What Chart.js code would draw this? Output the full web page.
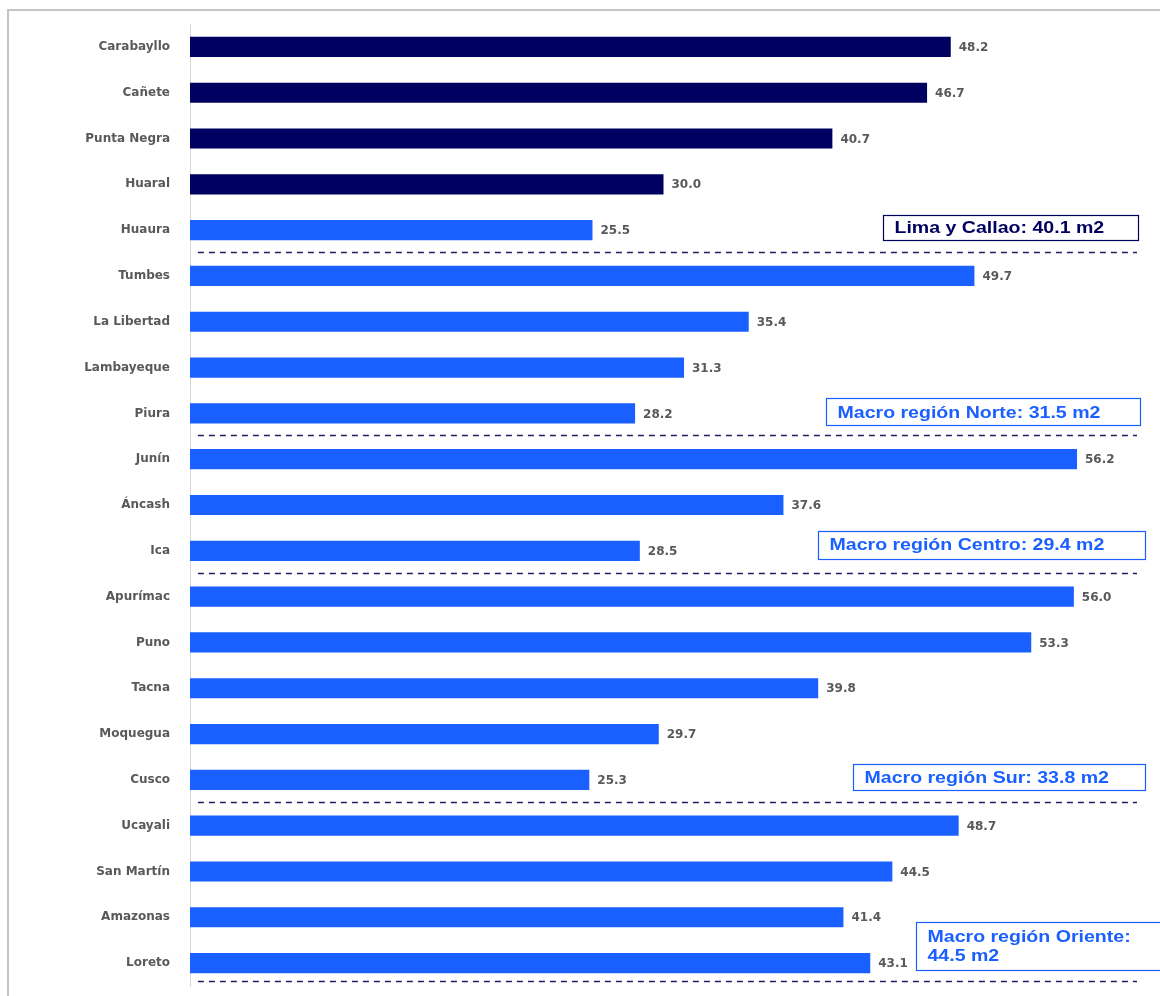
<!DOCTYPE html>
<html>
<head>
<meta charset="utf-8">
<script src="https://cdn.jsdelivr.net/npm/chart.js@4.4.1/dist/chart.umd.min.js"></script>
<style>
  html, body { margin: 0; padding: 0; background: #fff; }
  #wrap { width: 1160px; height: 996px; position: relative; }
</style>
</head>
<body>
<div id="wrap"><canvas id="chart" width="1160" height="996"></canvas></div>
<script>
const categories = [
  "Carabayllo", "Cañete", "Punta Negra", "Huaral", "Huaura",
  "Tumbes", "La Libertad", "Lambayeque", "Piura",
  "Junín", "Áncash", "Ica",
  "Apurímac", "Puno", "Tacna", "Moquegua", "Cusco",
  "Ucayali", "San Martín", "Amazonas", "Loreto"
];
const values = [
  48.2, 46.7, 40.7, 30.0, 25.5,
  49.7, 35.4, 31.3, 28.2,
  56.2, 37.6, 28.5,
  56.0, 53.3, 39.8, 29.7, 25.3,
  48.7, 44.5, 41.4, 43.1
];
// first four bars are Lima Metropolitana districts (dark navy)
const darkBars = 4;
// index of the last category of each group, a dashed line goes under it
const groupEnds = [4, 8, 11, 16, 20];
const groupTexts = [
  ["Lima y Callao: 40.1 m2"],
  ["Macro región Norte: 31.5 m2"],
  ["Macro región Centro: 29.4 m2"],
  ["Macro región Sur: 33.8 m2"],
  ["Macro región Oriente:", "44.5 m2"]
];

const NAVY = "#000060";
const BLUE = "#1a5fff";
const GRAY = "#595959";

// box placement: left/right in axis units, vertical offset from the row centre
const boxes = [
  { row: 4, x0: 43.9, x1: 60.05, dy: -3, h: 25, color: NAVY },
  { row: 8, x0: 40.3, x1: 60.2, dy: -1.5, h: 27, color: BLUE },
  { row: 11, x0: 39.8, x1: 60.5, dy: -6, h: 28, color: BLUE },
  { row: 16, x0: 42.0, x1: 60.5, dy: -3, h: 26, color: BLUE },
  { row: 20, x0: 46.0, x1: 62.0, dy: -17, h: 48, color: BLUE }
];

const framePlugin = {
  id: "frame",
  beforeDraw(chart) {
    const ctx = chart.ctx;
    ctx.save();
    ctx.strokeStyle = "#c4c4c4";
    ctx.lineWidth = 2;
    ctx.strokeRect(8, 10, 1400, 1400);
    ctx.restore();
  }
};

const valueLabels = {
  id: "valueLabels",
  afterDatasetsDraw(chart) {
    const ctx = chart.ctx;
    const meta = chart.getDatasetMeta(0);
    ctx.save();
    ctx.font = "bold 12px 'DejaVu Sans'";
    ctx.fillStyle = GRAY;
    ctx.textBaseline = "middle";
    ctx.textAlign = "left";
    meta.data.forEach((bar, i) => {
      ctx.fillText(values[i].toFixed(1), bar.x + 8, bar.y + 1);
    });
    ctx.restore();
  }
};

const groupPlugin = {
  id: "groups",
  afterDraw(chart) {
    const ctx = chart.ctx;
    const xs = chart.scales.x;
    const ys = chart.scales.y;
    const step = ys.getPixelForValue(1) - ys.getPixelForValue(0);
    ctx.save();
    // dashed separators
    ctx.strokeStyle = "#1f1f60";
    ctx.lineWidth = 1.3;
    ctx.setLineDash([6, 5]);
    groupEnds.forEach(idx => {
      let y = Math.round(ys.getPixelForValue(idx) + step / 2) - 0.5;
      y = Math.min(y, chart.chartArea.bottom - 4.5);
      ctx.beginPath();
      ctx.moveTo(xs.getPixelForValue(0.5), y);
      ctx.lineTo(xs.getPixelForValue(60), y);
      ctx.stroke();
    });
    ctx.setLineDash([]);
    // summary boxes
    boxes.forEach((b, i) => {
      const cy = ys.getPixelForValue(b.row) + b.dy;
      const left = Math.round(xs.getPixelForValue(b.x0)) + 0.5;
      const right = Math.round(xs.getPixelForValue(b.x1)) + 0.5;
      const top = Math.round(cy - b.h / 2) + 0.5;
      ctx.fillStyle = "#fff";
      ctx.fillRect(left, top, right - left, b.h);
      ctx.strokeStyle = b.color;
      ctx.lineWidth = 1.2;
      ctx.strokeRect(left, top, right - left, b.h);
      ctx.fillStyle = b.color;
      ctx.font = "bold 17px 'Liberation Sans', Arial, sans-serif";
      ctx.textBaseline = "middle";
      ctx.textAlign = "left";
      const lines = groupTexts[i];
      const lh = 19;
      lines.forEach((t, k) => {
        const ty = cy + 1 + (k - (lines.length - 1) / 2) * lh;
        // the original text is a little wider than Arial, stretch it
        ctx.save();
        ctx.translate(left + 11, ty);
        ctx.scale(1.15, 1);
        ctx.fillText(t, 0, 0);
        ctx.restore();
      });
    });
    ctx.restore();
  }
};

new Chart(document.getElementById("chart"), {
  type: "bar",
  data: {
    labels: categories,
    datasets: [{
      data: values,
      backgroundColor: values.map((v, i) => i < darkBars ? NAVY : BLUE),
      borderWidth: 0,
      barPercentage: 0.44,
      categoryPercentage: 1
    }]
  },
  options: {
    indexAxis: "y",
    responsive: false,
    animation: false,
    layout: { padding: { left: 0, top: 24, right: 23, bottom: 10 } },
    plugins: {
      legend: { display: false },
      tooltip: { enabled: false }
    },
    scales: {
      x: {
        display: false,
        min: 0,
        max: 60
      },
      y: {
        afterFit(scale) {
          scale.width = 190;
          scale.paddingTop = 0;
          scale.paddingBottom = 0;
        },
        grid: { display: false, drawTicks: false },
        border: { display: true, color: "#d9d9d9", width: 1 },
        ticks: {
          padding: 20,
          color: GRAY,
          font: { family: "'DejaVu Sans'", size: 12, weight: "bold" }
        }
      }
    }
  },
  plugins: [framePlugin, valueLabels, groupPlugin]
});
</script>
</body>
</html>
